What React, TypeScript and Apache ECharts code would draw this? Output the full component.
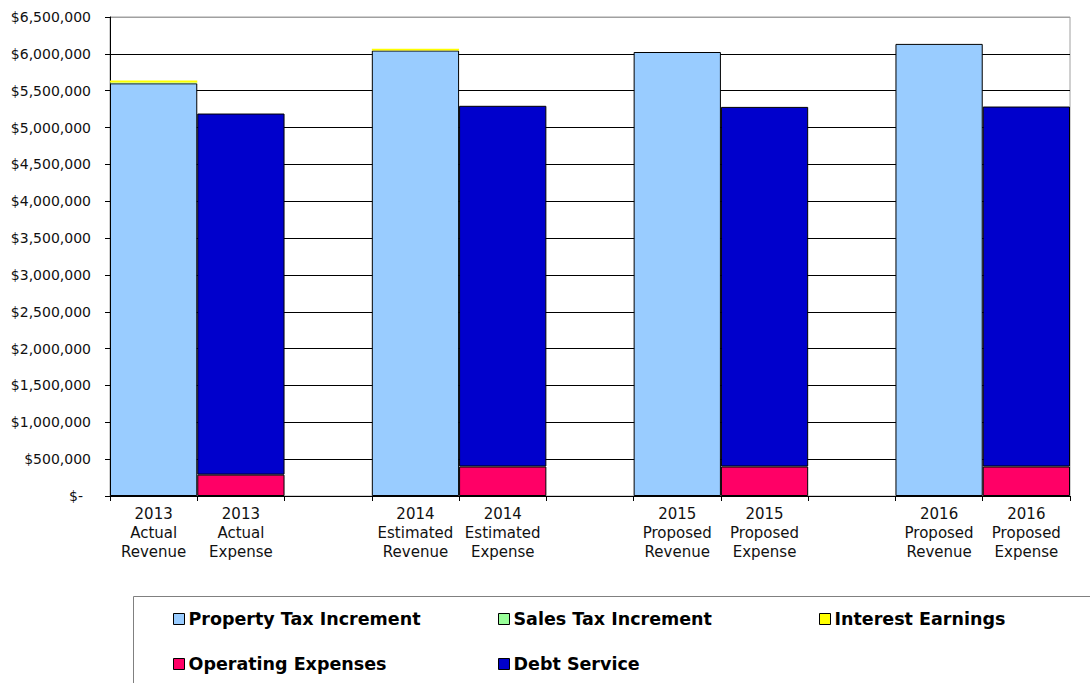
import React, { useEffect, useRef } from "react";
import * as echarts from "echarts";

const categories = [
  "2013\nActual\nRevenue",
  "2013\nActual\nExpense",
  "",
  "2014\nEstimated\nRevenue",
  "2014\nEstimated\nExpense",
  "",
  "2015\nProposed\nRevenue",
  "2015\nProposed\nExpense",
  "",
  "2016\nProposed\nRevenue",
  "2016\nProposed\nExpense",
];

const propertyTax = [5600000, null, null, 6045000, null, null, 6025000, null, null, 6135000, null];
const salesTax = [12000, null, null, null, null, null, null, null, null, null, null];
const interestEarnings = [25000, null, null, 25000, null, null, null, null, null, null, null];
const operatingExpenses = [null, 290000, null, null, 400000, null, null, 400000, null, null, 400000];
const debtService = [null, 4900000, null, null, 4895000, null, null, 4880000, null, null, 4885000];

const yTicks = { min: 0, max: 6500000, interval: 500000 };

const FONT = "DejaVu Sans";

export default function App() {
  const ref = useRef<HTMLDivElement>(null);

  useEffect(() => {
    if (!ref.current) return;
    const chart = echarts.init(ref.current, null, { renderer: "svg" });

    const splitColors: string[] = [];
    const n = yTicks.max / yTicks.interval + 1;
    for (let i = 0; i < n; i++) splitColors.push(i === n - 1 ? "#a0a0a0" : "#000000");

    const bar = (name: string, data: (number | null)[], color: string, border: number) => ({
      name,
      type: "bar",
      stack: "total",
      barCategoryGap: "0%",
      data,
      itemStyle: { color, borderColor: "#000", borderWidth: border },
      emphasis: { disabled: true },
    });

    const legendItem = (name: string, color: string, left: number, top: number) => ({
      data: [{ name, itemStyle: { color, borderColor: "#000", borderWidth: 1 } }],
      left,
      top,
      padding: 0,
      icon: "rect",
      itemWidth: 11,
      itemHeight: 11,
      itemGap: 4,
      selectedMode: false,
      textStyle: {
        fontFamily: FONT,
        fontSize: 17.5,
        fontWeight: "bold",
        color: "#000",
        lineHeight: 20,
        padding: [0, 0, 0, -1],
      },
    });

    chart.setOption({
      animation: false,
      backgroundColor: "#ffffff",
      grid: {
        left: 110,
        right: 20,
        top: 17,
        bottom: 187,
        containLabel: false,
        show: true,
        borderColor: "#a0a0a0",
        borderWidth: 1,
        backgroundColor: "transparent",
      },
      xAxis: {
        type: "category",
        data: categories,
        boundaryGap: true,
        axisLine: { show: true, lineStyle: { color: "#000", width: 1 } },
        axisTick: { show: true, length: 5, alignWithLabel: false, interval: 0, lineStyle: { color: "#000" } },
        axisLabel: {
          interval: 0,
          fontFamily: FONT,
          fontSize: 15,
          lineHeight: 19,
          color: "#111",
          margin: 8,
        },
        splitLine: { show: false },
      },
      yAxis: {
        type: "value",
        min: yTicks.min,
        max: yTicks.max,
        interval: yTicks.interval,
        axisLine: { show: true, lineStyle: { color: "#000", width: 1 } },
        axisTick: { show: true, length: 5, inside: false, lineStyle: { color: "#000" } },
        axisLabel: {
          fontFamily: FONT,
          fontSize: 14,
          color: "#111",
          margin: 19,
          formatter: (v: number) =>
            v === 0 ? "{z|$-}" : "$" + v.toLocaleString("en-US"),
          rich: {
            z: { fontFamily: FONT, fontSize: 14, color: "#111", padding: [0, 8, 0, 0] },
          },
        },
        splitLine: { show: true, lineStyle: { color: splitColors, width: 1 } },
      },
      legend: [
        legendItem("Property Tax Increment", "#99CCFF", 173, 609),
        legendItem("Sales Tax Increment", "#99FF99", 498, 609),
        legendItem("Interest Earnings", "#FFFF00", 819, 609),
        legendItem("Operating Expenses", "#FF0066", 173, 654),
        legendItem("Debt Service", "#0000CC", 498, 654),
      ],
      graphic: [
        {
          type: "rect",
          shape: { x: 133.5, y: 596.5, width: 1000, height: 200 },
          style: { fill: "none", stroke: "#808080", lineWidth: 1 },
          silent: true,
          z: -1,
        },
      ],
      series: [
        bar("Property Tax Increment", propertyTax, "#99CCFF", 1),
        bar("Sales Tax Increment", salesTax, "#99FF99", 0),
        bar("Interest Earnings", interestEarnings, "#FFFF00", 0),
        bar("Operating Expenses", operatingExpenses, "#FF0066", 1),
        bar("Debt Service", debtService, "#0000CC", 1),
      ],
    });

    return () => chart.dispose();
  }, []);

  return (
    <div
      ref={ref}
      style={{ position: "fixed", left: 0, top: 0, width: 1090, height: 683, background: "#fff" }}
    />
  );
}
